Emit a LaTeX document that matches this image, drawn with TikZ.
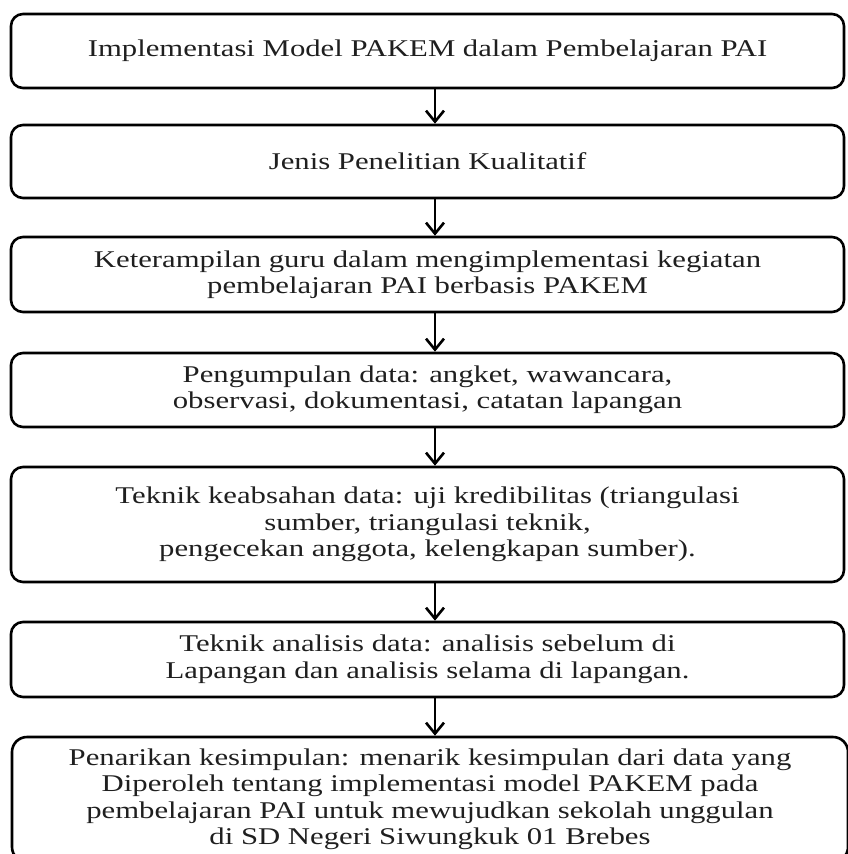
\documentclass[tikz,border=0pt]{standalone}
\usepackage{fontspec}
\setmainfont[FakeStretch=1.28]{Liberation Serif}
\usetikzlibrary{arrows.meta}
\begin{document}
\begin{tikzpicture}[x=1pt,y=1pt,
 box/.style={draw=black, line width=2.6pt, rounded corners=12pt, minimum width=833pt, inner sep=0pt, align=center, font=\fontsize{24}{26.5}\selectfont, text=black!88},
 arr/.style={line width=2.6pt, -{Straight Barb[length=11pt,width=18pt,line width=2.6pt]}}]
\useasboundingbox (0,0) rectangle (848,-854);
\begin{scope}
\clip (0,0) rectangle (848,-854);
\node[box, minimum height=74pt] (b1) at (427.5,-51) {Implementasi Model PAKEM dalam Pembelajaran PAI};
\node[box, minimum height=73pt] (b2) at (427.5,-161.5) {Jenis Penelitian Kualitatif};
\node[box, minimum height=75pt] (b3) at (427.5,-274.5) {Keterampilan guru dalam mengimplementasi kegiatan\\pembelajaran PAI berbasis PAKEM};
\node[box, minimum height=74pt] (b4) at (427.5,-390) {Pengumpulan data: angket, wawancara,\\observasi, dokumentasi, catatan lapangan};
\node[box, minimum height=115pt] (b5) at (427.5,-524.5) {Teknik keabsahan data: uji kredibilitas (triangulasi\\sumber, triangulasi teknik,\\pengecekan anggota, kelengkapan sumber).};
\node[box, minimum height=75pt] (b6) at (427.5,-659.5) {Teknik analisis data: analisis sebelum di\\Lapangan dan analisis selama di lapangan.};
\node[box, minimum height=125pt, minimum width=836pt, rounded corners=15pt] (b7) at (430,-799.5) {Penarikan kesimpulan: menarik kesimpulan dari data yang\\Diperoleh tentang implementasi model PAKEM pada\\pembelajaran PAI untuk mewujudkan sekolah unggulan\\di SD Negeri Siwungkuk 01 Brebes};
\end{scope}
\foreach \a/\b in {b1/b2,b2/b3,b3/b4,b4/b5,b5/b6}
  \draw[arr] ([xshift=7.5pt]\a.south) -- ([xshift=7.5pt]\b.north);
\draw[arr] ([xshift=7.5pt]b6.south) -- ([xshift=5pt]b7.north);
\end{tikzpicture}
\end{document}
